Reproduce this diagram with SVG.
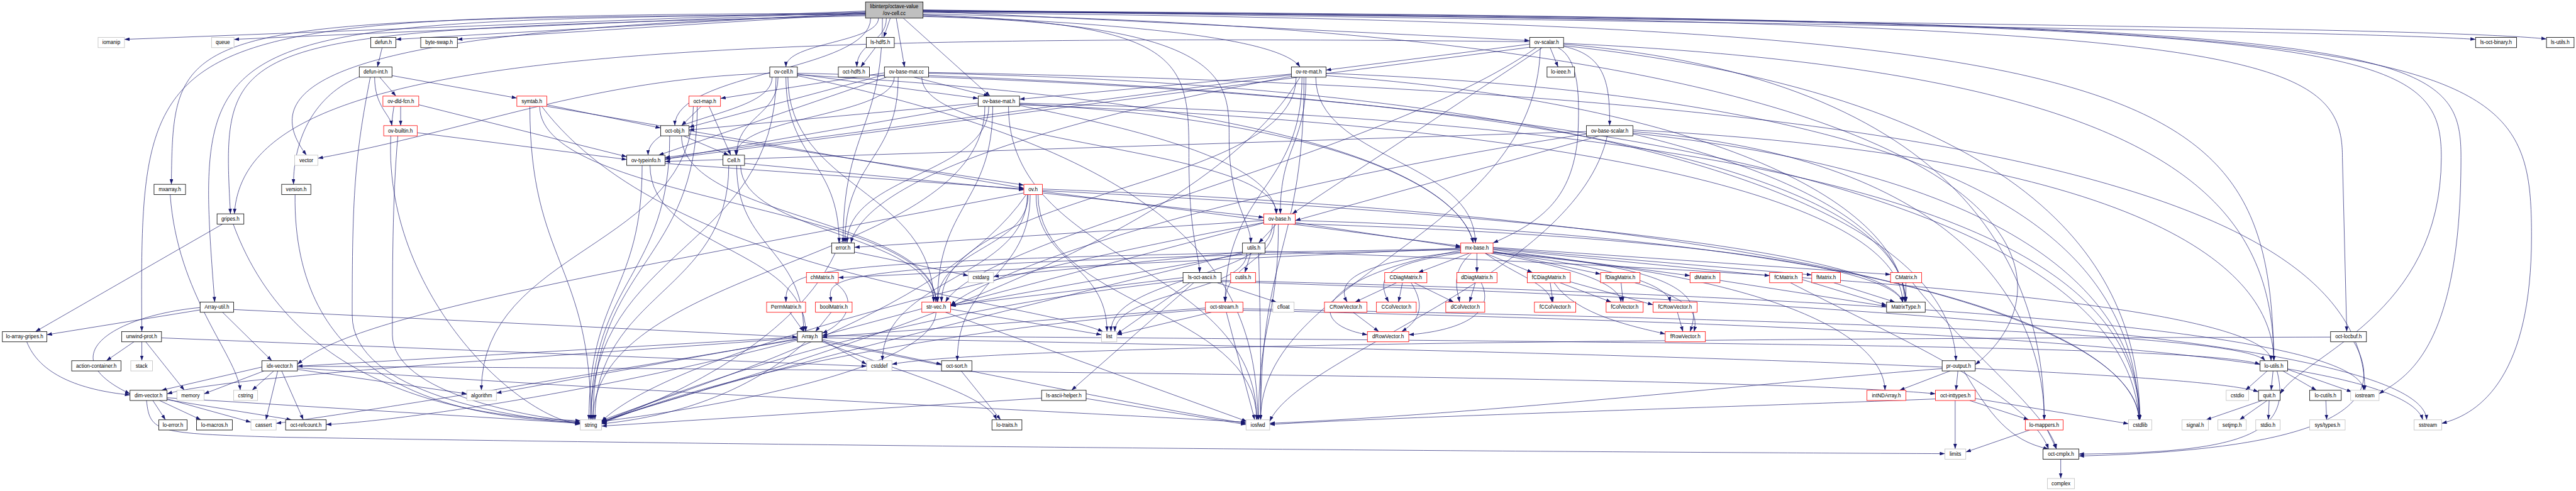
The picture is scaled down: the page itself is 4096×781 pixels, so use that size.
<svg xmlns="http://www.w3.org/2000/svg" width="4096" height="781" viewBox="0 0 4096 781">
<style>
.e path{fill:none;stroke:#191970;stroke-width:1.1;marker-end:url(#a)}
.n rect{fill:#fff;stroke-width:1.3}
.k rect{stroke:#000}
.r rect{stroke:#f00}
.g rect{stroke:#bfbfbf}
text{font-family:"Liberation Sans",Arial,Helvetica,sans-serif;font-size:13px;text-anchor:middle;fill:#000}
</style>
<defs>
<marker id="a" markerUnits="userSpaceOnUse" markerWidth="13" markerHeight="9" viewBox="0 0 13 9" refX="13" refY="4.5" orient="auto"><path d="M0,0 L13,4.5 L0,9 z" fill="#191970"/></marker>
</defs>
<rect width="4096" height="781" fill="#fff"/>
<g transform="scale(0.6264)">
<g id="connectors" class="e">
<path d="M2197,28 L316,100"/>
<path d="M2197,30 L594,100"/>
<path d="M2197,32 L1005,100"/>
<path d="M2197,34 L1161,100"/>
<path d="M2260,46 L2243,95"/>
<path d="M2343,28 L3883,103"/>
<path d="M2343,26 C4500,60 6000,80 6284,100"/>
<path d="M2343,25 C4500,55 6200,70 6464,99"/>
<path d="M2230,46 C2230,108 1995,108 1995,170"/>
<path d="M2250,46 C2250,108 2175,108 2175,170"/>
<path d="M2275,46 L2296,170"/>
<path d="M2293,46 L2513,244"/>
<path d="M2343,40 C2900,60 3250,100 3300,170"/>
<path d="M2197,38 C900,70 630,200 778,394"/>
<path d="M2197,36 C440,50 440,50 435,468"/>
<path d="M2197,40 C560,80 560,80 585,543"/>
<path d="M2197,35 C490,55 490,55 545,767"/>
<path d="M2197,33 C355,45 355,45 360,842"/>
<path d="M2240,46 C2240,330 2140,330 2140,617"/>
<path d="M2343,42 C3120,60 3120,200 3120,350 C3120,520 3175,560 3175,617"/>
<path d="M2343,38 C3010,60 3018,150 3018,400 C3018,600 3045,650 3045,692"/>
<path d="M2210,46 C2210,182 1713,182 1713,319"/>
<path d="M2343,36 C5200,80 5300,700 5014,926"/>
<path d="M2343,32 C5500,60 5760,200 5772,916"/>
<path d="M2343,30 C6000,50 6197,100 6197,400 C6197,800 5850,900 5788,1000"/>
<path d="M2343,29 C5700,50 5946,120 5946,400 L5957,842"/>
<path d="M2343,28 C6100,50 6247,100 6247,400 C6247,900 6100,960 6039,1000"/>
<path d="M2343,27 C6300,50 6426,100 6426,600 C6426,950 6300,1050 6198,1075"/>
<path d="M970,121 L958,170"/>
<path d="M2222,121 L2185,170"/>
<path d="M964,196 L1005,244"/>
<path d="M951,196 C951,270 990,290 995,319"/>
<path d="M995,192 L1312,249"/>
<path d="M912,195 C800,240 745,350 745,468"/>
<path d="M940,196 C900,400 894,500 894,800 C894,1000 1300,1060 1473,1075"/>
<path d="M1017,270 L1017,319"/>
<path d="M1063,266 L1591,398"/>
<path d="M1000,270 C930,700 1300,1060 1473,1077"/>
<path d="M1059,337 L1591,405"/>
<path d="M1010,345 C996,500 996,700 996,850 C996,1000 1350,1060 1473,1072"/>
<path d="M1388,266 L1677,325"/>
<path d="M1388,270 L2599,478"/>
<path d="M1375,270 C1700,700 2600,760 2800,842"/>
<path d="M1345,270 C1345,668 1500,668 1500,1066"/>
<path d="M1370,270 C1370,518 2376,518 2376,767"/>
<path d="M1780,270 L1730,319"/>
<path d="M1800,270 L1855,394"/>
<path d="M1770,270 C1770,668 1505,668 1505,1066"/>
<path d="M1760,270 C1760,630 1222,630 1222,991"/>
<path d="M2245,185 L1829,250"/>
<path d="M2320,196 L2510,244"/>
<path d="M2340,196 C2340,370 3240,370 3240,543"/>
<path d="M2357,186 C4000,220 4950,500 4965,916"/>
<path d="M2270,196 C2270,295 1868,295 1868,394"/>
<path d="M2245,190 L1749,323"/>
<path d="M2280,196 C2280,406 2145,406 2145,617"/>
<path d="M2357,184 C5000,230 6000,500 6003,991"/>
<path d="M2357,192 C4200,260 4830,500 4838,767"/>
<path d="M2250,196 L1672,394"/>
<path d="M2588,262 C5000,320 5420,700 5432,1066"/>
<path d="M2560,270 C2560,668 3190,668 3190,1066"/>
<path d="M2500,270 C2500,668 1505,668 1505,1066"/>
<path d="M2588,264 C3300,300 3700,450 3740,617"/>
<path d="M2520,270 C2520,518 2380,518 2380,767"/>
<path d="M2588,266 C4000,320 4820,500 4830,767"/>
<path d="M2510,270 C2510,444 2150,444 2150,617"/>
<path d="M2483,262 L1749,330"/>
<path d="M2588,268 C3000,350 3230,430 3240,543"/>
<path d="M2483,266 L1688,404"/>
<path d="M3366,186 C5000,250 5420,600 5430,1066"/>
<path d="M3310,196 C3310,631 3200,631 3200,1066"/>
<path d="M3300,196 C3000,700 1700,1000 1527,1072"/>
<path d="M3340,196 C3340,406 3745,406 3745,617"/>
<path d="M3290,196 C3290,481 2390,481 2390,767"/>
<path d="M3278,194 C2700,300 2200,450 2160,617"/>
<path d="M3305,196 C3305,481 3110,481 3110,767"/>
<path d="M3315,196 C3315,370 3250,370 3250,543"/>
<path d="M3278,188 L2588,252"/>
<path d="M3278,190 L1688,400"/>
<path d="M3366,192 C4300,260 4830,500 4835,767"/>
<path d="M3883,112 L3366,178"/>
<path d="M3935,121 L3955,170"/>
<path d="M3969,118 C4080,140 4086,220 4086,319"/>
<path d="M3955,121 C4010,150 4010,250 4005,350 C3990,500 3920,560 3790,617"/>
<path d="M3915,121 L3280,543"/>
<path d="M3883,106 C1500,80 620,150 595,543"/>
<path d="M3969,112 C5000,200 5190,700 5189,1066"/>
<path d="M3969,110 C5500,180 5770,500 5772,916"/>
<path d="M3900,121 C3500,400 2500,600 2400,767"/>
<path d="M3883,120 L1688,404"/>
<path d="M3910,121 C3900,600 3200,700 3200,1066"/>
<path d="M3969,116 C5200,250 5430,700 5432,1066"/>
<path d="M4060,345 L3288,560"/>
<path d="M4027,334 L1688,410"/>
<path d="M4027,340 C3000,500 2500,700 2413,775"/>
<path d="M4145,334 C5000,400 5189,800 5189,1066"/>
<path d="M4145,330 C5500,400 5770,700 5772,916"/>
<path d="M4145,340 C4600,450 4830,600 4838,767"/>
<path d="M4145,338 C5200,450 5430,800 5432,1066"/>
<path d="M4080,345 C4000,700 3300,900 3223,1070"/>
<path d="M2024,186 C4500,240 5400,600 5430,1066"/>
<path d="M2024,192 C3000,400 3190,700 3193,1066"/>
<path d="M1970,196 C1970,631 1500,631 1500,1066"/>
<path d="M1954,186 C1500,200 1200,330 807,402"/>
<path d="M2024,190 C3300,260 3700,450 3740,617"/>
<path d="M2000,196 C2000,481 2370,481 2370,767"/>
<path d="M1975,196 C1975,295 1870,295 1870,394"/>
<path d="M1995,196 C1995,406 2130,406 2130,617"/>
<path d="M2024,188 L2483,250"/>
<path d="M1960,196 C1960,295 1645,295 1645,394"/>
<path d="M1700,345 C1700,705 1500,705 1500,1066"/>
<path d="M1730,345 C1730,556 2376,556 2376,767"/>
<path d="M1735,345 L1850,394"/>
<path d="M1749,340 L2599,470"/>
<path d="M1630,420 C1630,743 1495,743 1495,1066"/>
<path d="M1650,420 C1650,631 2045,631 2045,842"/>
<path d="M1688,415 L2599,480"/>
<path d="M1850,420 C1850,743 1510,743 1510,1066"/>
<path d="M1870,420 C1870,631 2040,631 2040,842"/>
<path d="M1880,420 C1880,593 2370,593 2370,767"/>
<path d="M1890,415 L2599,482"/>
<path d="M2646,480 C4500,550 5420,800 5430,1066"/>
<path d="M2635,494 C2635,780 3190,780 3190,1066"/>
<path d="M2605,494 C2400,800 1700,1000 1527,1068"/>
<path d="M2630,494 C2630,668 2810,668 2810,842"/>
<path d="M2599,490 C1500,700 900,800 755,925"/>
<path d="M2646,486 L3708,625"/>
<path d="M2610,494 C2610,630 2380,630 2380,767"/>
<path d="M2615,494 C2615,705 2430,705 2430,916"/>
<path d="M2646,490 L3208,552"/>
<path d="M2646,484 C4000,550 4800,650 4830,767"/>
<path d="M2608,494 C2608,705 2240,705 2240,916"/>
<path d="M3288,560 C4800,600 5420,850 5430,1066"/>
<path d="M3245,569 C3245,817 3195,817 3195,1066"/>
<path d="M3230,569 C3230,705 2820,705 2820,842"/>
<path d="M3208,565 C2500,700 1700,900 1527,1070"/>
<path d="M3288,565 L3708,628"/>
<path d="M3208,566 L2413,775"/>
<path d="M3208,560 L2169,628"/>
<path d="M3288,568 C4300,600 4800,680 4830,767"/>
<path d="M3240,569 L3195,617"/>
<path d="M3235,569 C3235,668 3110,668 3110,767"/>
<path d="M2169,640 L2458,700"/>
<path d="M2120,643 C2000,900 1600,1050 1527,1070"/>
<path d="M3154,640 L2522,702"/>
<path d="M3195,643 C3200,855 3200,855 3200,1066"/>
<path d="M3154,642 C2500,800 1700,1000 1527,1074"/>
<path d="M3165,643 C3165,742 2830,742 2830,842"/>
<path d="M3211,638 C5000,700 5760,800 5765,916"/>
<path d="M3175,643 L3160,692"/>
<path d="M3154,645 L2413,777"/>
<path d="M3730,643 L3600,692"/>
<path d="M3749,643 L3749,692"/>
<path d="M3770,643 L3890,692"/>
<path d="M3790,638 L4063,696"/>
<path d="M3790,634 L4290,700"/>
<path d="M3790,632 L4492,700"/>
<path d="M3790,630 L4599,698"/>
<path d="M3790,628 L4799,697"/>
<path d="M3708,640 C3500,660 3380,700 3420,767"/>
<path d="M3708,642 C3520,670 3490,700 3525,767"/>
<path d="M3735,643 C3680,690 3700,740 3705,767"/>
<path d="M3708,636 C3350,700 3300,820 3471,850"/>
<path d="M3770,643 C3850,700 3930,720 3940,767"/>
<path d="M3785,643 C4000,680 4110,720 4115,767"/>
<path d="M3790,641 C4100,680 4230,720 4240,767"/>
<path d="M3790,640 C4300,680 4320,760 4290,842"/>
<path d="M3708,630 L2128,705"/>
<path d="M3708,632 C2000,660 1995,680 1995,767"/>
<path d="M3708,634 C2050,670 2100,700 2110,767"/>
<path d="M3790,642 C4500,700 4780,850 4785,991"/>
<path d="M3545,718 L3440,767"/>
<path d="M3560,718 L3550,767"/>
<path d="M3590,718 L3690,767"/>
<path d="M3582,718 C3615,770 3610,810 3558,842"/>
<path d="M3745,718 L3730,767"/>
<path d="M3760,718 C3800,800 3700,840 3576,850"/>
<path d="M3935,718 L3942,767"/>
<path d="M3960,718 L4090,767"/>
<path d="M3980,714 L4196,774"/>
<path d="M3945,718 C4000,800 4150,830 4227,848"/>
<path d="M4115,718 L4120,767"/>
<path d="M4150,718 C4300,760 4310,800 4300,842"/>
<path d="M3435,793 L3500,842"/>
<path d="M4258,793 L4272,842"/>
<path d="M4366,712 L4789,778"/>
<path d="M4575,710 L4789,775"/>
<path d="M4545,718 C4800,850 5150,1000 5200,1140"/>
<path d="M4655,718 L4810,767"/>
<path d="M4838,718 L4838,767"/>
<path d="M4855,718 C5000,900 5200,1050 5220,1140"/>
<path d="M2110,793 L2070,842"/>
<path d="M2005,793 L2040,842"/>
<path d="M2120,718 C2180,760 2150,820 2087,846"/>
<path d="M2024,862 C1500,950 900,1050 701,1075"/>
<path d="M2087,864 L2200,925"/>
<path d="M2024,860 L1260,998"/>
<path d="M2087,866 C2500,950 3000,1050 3163,1075"/>
<path d="M2024,858 C1500,900 600,950 424,1000"/>
<path d="M2024,856 L755,930"/>
<path d="M2087,868 C2300,950 2500,1000 2530,1066"/>
<path d="M2087,852 C4500,870 5600,880 5737,925"/>
<path d="M2087,862 L2390,925"/>
<path d="M2087,858 C4500,900 5600,950 5733,995"/>
<path d="M2024,864 C1500,1000 1000,1070 828,1078"/>
<path d="M2045,868 C1900,1000 1700,1060 1527,1076"/>
<path d="M2400,793 L3165,1070"/>
<path d="M2413,785 L2796,850"/>
<path d="M2376,793 C2370,950 1700,1050 1527,1070"/>
<path d="M2340,784 L2087,852"/>
<path d="M3113,793 L3185,1066"/>
<path d="M3075,793 L2835,850"/>
<path d="M3155,788 C5000,830 6100,900 6150,1066"/>
<path d="M3060,786 C2200,850 1700,1000 1527,1076"/>
<path d="M3060,782 L2087,856"/>
<path d="M3155,784 C5000,820 5700,860 5750,916"/>
<path d="M3090,718 L3240,767"/>
<path d="M3100,712 C5000,760 5990,850 6000,991"/>
<path d="M3100,715 C5200,780 6150,900 6160,1066"/>
<path d="M3003,712 C2200,800 1700,1000 1527,1072"/>
<path d="M3003,705 L2413,776"/>
<path d="M3030,718 L2720,991"/>
<path d="M3020,718 L2835,848"/>
<path d="M2757,1012 L3163,1078"/>
<path d="M2644,1011 L1527,1082"/>
<path d="M2440,942 L2540,1066"/>
<path d="M593,786 L2024,856"/>
<path d="M508,781 C300,800 120,900 330,1000"/>
<path d="M565,793 L690,916"/>
<path d="M508,787 L119,850"/>
<path d="M68,868 C100,950 200,990 330,1003"/>
<path d="M340,868 L270,916"/>
<path d="M360,868 L360,916"/>
<path d="M370,868 L468,991"/>
<path d="M410,858 L2200,930"/>
<path d="M705,942 L675,1066"/>
<path d="M695,942 L640,991"/>
<path d="M670,942 L518,1000"/>
<path d="M665,932 L410,991"/>
<path d="M715,942 L770,1066"/>
<path d="M755,938 L1185,1000"/>
<path d="M755,934 C1500,990 2800,1050 3163,1072"/>
<path d="M755,930 C2500,940 4500,960 4913,1000"/>
<path d="M424,1013 L637,1072"/>
<path d="M424,1010 L1473,1075"/>
<path d="M388,1017 L420,1066"/>
<path d="M405,1017 L510,1066"/>
<path d="M424,1015 L740,1066"/>
<path d="M372,1017 C380,1100 400,1100 700,1110 C2500,1140 4500,1150 4937,1152"/>
<path d="M432,494 C450,750 600,900 610,991"/>
<path d="M749,494 C743,950 1100,1060 1473,1072"/>
<path d="M565,569 L90,842"/>
<path d="M592,569 C750,1000 1200,1060 1473,1068"/>
<path d="M4950,942 L4822,991"/>
<path d="M4970,942 L4965,991"/>
<path d="M4985,942 C5050,1050 5100,1120 5200,1140"/>
<path d="M4930,936 C4600,960 3800,1050 3223,1075"/>
<path d="M4963,1017 L4963,1140"/>
<path d="M5000,1017 L5150,1066"/>
<path d="M5014,1012 L5403,1076"/>
<path d="M4913,1013 C4500,1030 3500,1060 3223,1078"/>
<path d="M5152,1092 L4990,1148"/>
<path d="M5197,1092 L5220,1140"/>
<path d="M5231,1166 L5231,1215"/>
<path d="M5755,942 L5700,991"/>
<path d="M5770,942 L5765,991"/>
<path d="M5795,942 L5880,991"/>
<path d="M5807,938 L5970,995"/>
<path d="M5780,942 C5820,1100 5700,1150 5277,1153"/>
<path d="M5742,1017 L5600,1066"/>
<path d="M5755,1017 L5685,1066"/>
<path d="M5760,1017 L5758,1066"/>
<path d="M5904,1017 L5906,1066"/>
<path d="M5916,856 C4000,860 2500,880 2264,925"/>
<path d="M5975,868 C6050,1000 6000,1140 5277,1158"/>
</g>
<g id="n-root" class="n k"><rect x="2197" y="5" width="146" height="41" style="fill:#bfbfbf"/><text x="2270" y="21">libinterp/octave-value</text><text x="2270" y="38">/ov-cell.cc</text></g>
<g id="n-iomanip" class="n g"><rect x="249" y="95" width="67" height="26"/><text x="282.5" y="112.5">iomanip</text></g>
<g id="n-queue" class="n g"><rect x="537" y="95" width="57" height="26"/><text x="565.5" y="112.5">queue</text></g>
<g id="n-defun" class="n k"><rect x="941" y="95" width="64" height="26"/><text x="973" y="112.5">defun.h</text></g>
<g id="n-byte-swap" class="n k"><rect x="1068" y="95" width="93" height="26"/><text x="1114.5" y="112.5">byte-swap.h</text></g>
<g id="n-ls-hdf5" class="n k"><rect x="2199" y="95" width="71" height="26"/><text x="2234.5" y="112.5">ls-hdf5.h</text></g>
<g id="n-ov-scalar" class="n k"><rect x="3883" y="95" width="86" height="26"/><text x="3926" y="112.5">ov-scalar.h</text></g>
<g id="n-ls-oct-binary" class="n k"><rect x="6284" y="95" width="104" height="26"/><text x="6336" y="112.5">ls-oct-binary.h</text></g>
<g id="n-ls-utils" class="n k"><rect x="6464" y="95" width="70" height="26"/><text x="6499" y="112.5">ls-utils.h</text></g>
<g id="n-defun-int" class="n k"><rect x="912" y="170" width="83" height="26"/><text x="953.5" y="187.5">defun-int.h</text></g>
<g id="n-ov-cell-h" class="n k"><rect x="1954" y="170" width="70" height="26"/><text x="1989" y="187.5">ov-cell.h</text></g>
<g id="n-oct-hdf5" class="n k"><rect x="2128" y="170" width="79" height="26"/><text x="2167.5" y="187.5">oct-hdf5.h</text></g>
<g id="n-ov-base-mat-cc" class="n k"><rect x="2245" y="170" width="112" height="26"/><text x="2301" y="187.5">ov-base-mat.cc</text></g>
<g id="n-ov-re-mat" class="n k"><rect x="3278" y="170" width="88" height="26"/><text x="3322" y="187.5">ov-re-mat.h</text></g>
<g id="n-lo-ieee" class="n k"><rect x="3927" y="170" width="70" height="26"/><text x="3962" y="187.5">lo-ieee.h</text></g>
<g id="n-ov-dld-fcn" class="n r"><rect x="972" y="244" width="91" height="26"/><text x="1017.5" y="261.5">ov-dld-fcn.h</text></g>
<g id="n-symtab" class="n r"><rect x="1312" y="244" width="76" height="26"/><text x="1350" y="261.5">symtab.h</text></g>
<g id="n-oct-map" class="n r"><rect x="1749" y="244" width="80" height="26"/><text x="1789" y="261.5">oct-map.h</text></g>
<g id="n-ov-base-mat-h" class="n k"><rect x="2483" y="244" width="105" height="26"/><text x="2535.5" y="261.5">ov-base-mat.h</text></g>
<g id="n-ov-builtin" class="n r"><rect x="974" y="319" width="85" height="26"/><text x="1016.5" y="336.5">ov-builtin.h</text></g>
<g id="n-oct-obj" class="n k"><rect x="1677" y="319" width="72" height="26"/><text x="1713" y="336.5">oct-obj.h</text></g>
<g id="n-ov-base-scalar" class="n k"><rect x="4027" y="319" width="118" height="26"/><text x="4086" y="336.5">ov-base-scalar.h</text></g>
<g id="n-vector" class="n g"><rect x="748" y="394" width="59" height="26"/><text x="777.5" y="411.5">vector</text></g>
<g id="n-ov-typeinfo" class="n k"><rect x="1591" y="394" width="97" height="26"/><text x="1639.5" y="411.5">ov-typeinfo.h</text></g>
<g id="n-Cell" class="n k"><rect x="1835" y="394" width="55" height="26"/><text x="1862.5" y="411.5">Cell.h</text></g>
<g id="n-mxarray" class="n k"><rect x="391" y="468" width="80" height="26"/><text x="431" y="485.5">mxarray.h</text></g>
<g id="n-version" class="n k"><rect x="715" y="468" width="74" height="26"/><text x="752" y="485.5">version.h</text></g>
<g id="n-ov" class="n r"><rect x="2599" y="468" width="47" height="26"/><text x="2622.5" y="485.5">ov.h</text></g>
<g id="n-gripes" class="n k"><rect x="551" y="543" width="68" height="26"/><text x="585" y="560.5">gripes.h</text></g>
<g id="n-ov-base" class="n r"><rect x="3208" y="543" width="80" height="26"/><text x="3248" y="560.5">ov-base.h</text></g>
<g id="n-error" class="n k"><rect x="2111" y="617" width="58" height="26"/><text x="2140" y="634.5">error.h</text></g>
<g id="n-utils" class="n k"><rect x="3154" y="617" width="57" height="26"/><text x="3182.5" y="634.5">utils.h</text></g>
<g id="n-mx-base" class="n r"><rect x="3708" y="617" width="82" height="26"/><text x="3749" y="634.5">mx-base.h</text></g>
<g id="n-chMatrix" class="n r"><rect x="2047" y="692" width="81" height="26"/><text x="2087.5" y="709.5">chMatrix.h</text></g>
<g id="n-cstdarg" class="n g"><rect x="2458" y="692" width="64" height="26"/><text x="2490" y="709.5">cstdarg</text></g>
<g id="n-ls-oct-ascii" class="n k"><rect x="3003" y="692" width="97" height="26"/><text x="3051.5" y="709.5">ls-oct-ascii.h</text></g>
<g id="n-cutils" class="n r"><rect x="3124" y="692" width="63" height="26"/><text x="3155.5" y="709.5">cutils.h</text></g>
<g id="n-CDiagMatrix" class="n r"><rect x="3515" y="692" width="107" height="26"/><text x="3568.5" y="709.5">CDiagMatrix.h</text></g>
<g id="n-dDiagMatrix" class="n r"><rect x="3698" y="692" width="102" height="26"/><text x="3749" y="709.5">dDiagMatrix.h</text></g>
<g id="n-fCDiagMatrix" class="n r"><rect x="3877" y="692" width="109" height="26"/><text x="3931.5" y="709.5">fCDiagMatrix.h</text></g>
<g id="n-fDiagMatrix" class="n r"><rect x="4063" y="692" width="100" height="26"/><text x="4113" y="709.5">fDiagMatrix.h</text></g>
<g id="n-dMatrix" class="n r"><rect x="4290" y="692" width="76" height="26"/><text x="4328" y="709.5">dMatrix.h</text></g>
<g id="n-fCMatrix" class="n r"><rect x="4492" y="692" width="83" height="26"/><text x="4533.5" y="709.5">fCMatrix.h</text></g>
<g id="n-fMatrix" class="n r"><rect x="4599" y="692" width="73" height="26"/><text x="4635.5" y="709.5">fMatrix.h</text></g>
<g id="n-CMatrix" class="n r"><rect x="4799" y="692" width="79" height="26"/><text x="4838.5" y="709.5">CMatrix.h</text></g>
<g id="n-Array-util" class="n k"><rect x="508" y="767" width="85" height="26"/><text x="550.5" y="784.5">Array-util.h</text></g>
<g id="n-PermMatrix" class="n r"><rect x="1946" y="767" width="99" height="26"/><text x="1995.5" y="784.5">PermMatrix.h</text></g>
<g id="n-boolMatrix" class="n r"><rect x="2070" y="767" width="93" height="26"/><text x="2116.5" y="784.5">boolMatrix.h</text></g>
<g id="n-str-vec" class="n r"><rect x="2340" y="767" width="73" height="26"/><text x="2376.5" y="784.5">str-vec.h</text></g>
<g id="n-oct-stream" class="n r"><rect x="3060" y="767" width="95" height="26"/><text x="3107.5" y="784.5">oct-stream.h</text></g>
<g id="n-cfloat" class="n g"><rect x="3231" y="767" width="54" height="26"/><text x="3258" y="784.5">cfloat</text></g>
<g id="n-CRowVector" class="n r"><rect x="3362" y="767" width="108" height="26"/><text x="3416" y="784.5">CRowVector.h</text></g>
<g id="n-CColVector" class="n r"><rect x="3494" y="767" width="101" height="26"/><text x="3544.5" y="784.5">CColVector.h</text></g>
<g id="n-dColVector" class="n r"><rect x="3670" y="767" width="99" height="26"/><text x="3719.5" y="784.5">dColVector.h</text></g>
<g id="n-fCColVector" class="n r"><rect x="3895" y="767" width="105" height="26"/><text x="3947.5" y="784.5">fCColVector.h</text></g>
<g id="n-fColVector" class="n r"><rect x="4077" y="767" width="94" height="26"/><text x="4124" y="784.5">fColVector.h</text></g>
<g id="n-fCRowVector" class="n r"><rect x="4196" y="767" width="112" height="26"/><text x="4252" y="784.5">fCRowVector.h</text></g>
<g id="n-MatrixType" class="n k"><rect x="4789" y="767" width="98" height="26"/><text x="4838" y="784.5">MatrixType.h</text></g>
<g id="n-lo-array-gripes" class="n k"><rect x="6" y="842" width="113" height="26"/><text x="62.5" y="859.5">lo-array-gripes.h</text></g>
<g id="n-unwind-prot" class="n k"><rect x="309" y="842" width="101" height="26"/><text x="359.5" y="859.5">unwind-prot.h</text></g>
<g id="n-Array" class="n k"><rect x="2024" y="842" width="63" height="26" style="stroke:#404040;stroke-width:2"/><text x="2055.5" y="859.5">Array.h</text></g>
<g id="n-list" class="n g"><rect x="2796" y="842" width="39" height="26"/><text x="2815.5" y="859.5">list</text></g>
<g id="n-dRowVector" class="n r"><rect x="3471" y="842" width="105" height="26"/><text x="3523.5" y="859.5">dRowVector.h</text></g>
<g id="n-fRowVector" class="n r"><rect x="4227" y="842" width="102" height="26"/><text x="4278" y="859.5">fRowVector.h</text></g>
<g id="n-oct-locbuf" class="n k"><rect x="5916" y="842" width="91" height="26"/><text x="5961.5" y="859.5">oct-locbuf.h</text></g>
<g id="n-action-container" class="n k"><rect x="182" y="916" width="125" height="26"/><text x="244.5" y="933.5">action-container.h</text></g>
<g id="n-stack" class="n g"><rect x="332" y="916" width="55" height="26"/><text x="359.5" y="933.5">stack</text></g>
<g id="n-idx-vector" class="n k"><rect x="665" y="916" width="90" height="26"/><text x="710" y="933.5">idx-vector.h</text></g>
<g id="n-cstddef" class="n g"><rect x="2200" y="916" width="64" height="26"/><text x="2232" y="933.5">cstddef</text></g>
<g id="n-oct-sort" class="n k"><rect x="2390" y="916" width="77" height="26"/><text x="2428.5" y="933.5">oct-sort.h</text></g>
<g id="n-pr-output" class="n k"><rect x="4930" y="916" width="84" height="26"/><text x="4972" y="933.5">pr-output.h</text></g>
<g id="n-lo-utils" class="n k"><rect x="5737" y="916" width="70" height="26"/><text x="5772" y="933.5">lo-utils.h</text></g>
<g id="n-dim-vector" class="n k"><rect x="330" y="991" width="94" height="26"/><text x="377" y="1008.5">dim-vector.h</text></g>
<g id="n-memory" class="n g"><rect x="449" y="991" width="69" height="26"/><text x="483.5" y="1008.5">memory</text></g>
<g id="n-cstring" class="n g"><rect x="593" y="991" width="61" height="26"/><text x="623.5" y="1008.5">cstring</text></g>
<g id="n-algorithm" class="n g"><rect x="1185" y="991" width="75" height="26"/><text x="1222.5" y="1008.5">algorithm</text></g>
<g id="n-ls-ascii-helper" class="n k"><rect x="2644" y="991" width="113" height="26"/><text x="2700.5" y="1008.5">ls-ascii-helper.h</text></g>
<g id="n-intNDArray" class="n r"><rect x="4739" y="991" width="99" height="26"/><text x="4788.5" y="1008.5">intNDArray.h</text></g>
<g id="n-oct-inttypes" class="n r"><rect x="4913" y="991" width="101" height="26"/><text x="4963.5" y="1008.5">oct-inttypes.h</text></g>
<g id="n-cstdio" class="n g"><rect x="5651" y="991" width="57" height="26"/><text x="5679.5" y="1008.5">cstdio</text></g>
<g id="n-quit" class="n k"><rect x="5733" y="991" width="55" height="26"/><text x="5760.5" y="1008.5">quit.h</text></g>
<g id="n-lo-cutils" class="n k"><rect x="5863" y="991" width="80" height="26"/><text x="5903" y="1008.5">lo-cutils.h</text></g>
<g id="n-iostream" class="n g"><rect x="5967" y="991" width="72" height="26"/><text x="6003" y="1008.5">iostream</text></g>
<g id="n-lo-error" class="n k"><rect x="403" y="1066" width="72" height="26"/><text x="439" y="1083.5">lo-error.h</text></g>
<g id="n-lo-macros" class="n k"><rect x="499" y="1066" width="91" height="26"/><text x="544.5" y="1083.5">lo-macros.h</text></g>
<g id="n-cassert" class="n g"><rect x="637" y="1066" width="64" height="26"/><text x="669" y="1083.5">cassert</text></g>
<g id="n-oct-refcount" class="n k"><rect x="725" y="1066" width="103" height="26"/><text x="776.5" y="1083.5">oct-refcount.h</text></g>
<g id="n-string" class="n g"><rect x="1473" y="1066" width="54" height="26"/><text x="1500" y="1083.5">string</text></g>
<g id="n-lo-traits" class="n k"><rect x="2518" y="1066" width="76" height="26"/><text x="2556" y="1083.5">lo-traits.h</text></g>
<g id="n-iosfwd" class="n g"><rect x="3163" y="1066" width="60" height="26"/><text x="3193" y="1083.5">iosfwd</text></g>
<g id="n-lo-mappers" class="n r"><rect x="5141" y="1066" width="96" height="26"/><text x="5189" y="1083.5">lo-mappers.h</text></g>
<g id="n-cstdlib" class="n g"><rect x="5403" y="1066" width="59" height="26"/><text x="5432.5" y="1083.5">cstdlib</text></g>
<g id="n-signal" class="n g"><rect x="5539" y="1066" width="67" height="26"/><text x="5572.5" y="1083.5">signal.h</text></g>
<g id="n-setjmp" class="n g"><rect x="5630" y="1066" width="72" height="26"/><text x="5666" y="1083.5">setjmp.h</text></g>
<g id="n-stdio" class="n g"><rect x="5726" y="1066" width="62" height="26"/><text x="5757" y="1083.5">stdio.h</text></g>
<g id="n-sys-types" class="n g"><rect x="5863" y="1066" width="90" height="26"/><text x="5908" y="1083.5">sys/types.h</text></g>
<g id="n-sstream" class="n g"><rect x="6128" y="1066" width="70" height="26"/><text x="6163" y="1083.5">sstream</text></g>
<g id="n-limits" class="n g"><rect x="4937" y="1140" width="53" height="26"/><text x="4963.5" y="1157.5">limits</text></g>
<g id="n-oct-cmplx" class="n k"><rect x="5186" y="1140" width="91" height="26"/><text x="5231.5" y="1157.5">oct-cmplx.h</text></g>
<g id="n-complex" class="n g"><rect x="5197" y="1215" width="69" height="26"/><text x="5231.5" y="1232.5">complex</text></g>
</g>
</svg>
